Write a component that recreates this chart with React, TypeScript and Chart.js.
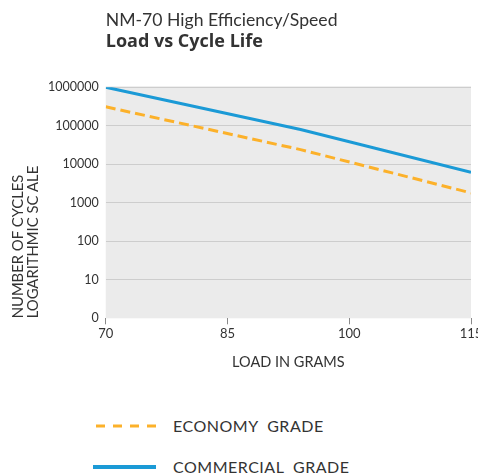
import React, { useEffect, useRef } from 'react';
import { Chart, registerables } from 'chart.js';

Chart.register(...registerables);

const loads = [70, 94, 115];
const economyCycles = [310000, 24000, 1800];
const commercialCycles = [1000000, 80000, 6200];
const xTicks = [70, 85, 100, 115];
const yTicks = [1, 10, 100, 1000, 10000, 100000, 1000000];
const yTickLabels = ['0', '10', '100', '1000', '10000', '100000', '1000000'];
const titleText = 'NM-70 High Efficiency/Speed';
const subtitleText = 'Load vs Cycle Life';
const xTitle = 'LOAD IN GRAMS';
const yTitle = ['NUMBER OF CYCLES', 'LOGARITHMIC SC ALE'];
const seriesNames = ['ECONOMY  GRADE', 'COMMERCIAL  GRADE'];

const ECON = '#fcb12a';
const COMM = '#1b9ad6';
const TEXT = '#333333';
const FONT = 'Lato';

const plotBg = {
  id: 'plotBg',
  beforeDraw(chart: any) {
    const { ctx, chartArea } = chart;
    if (!chartArea) return;
    ctx.save();
    ctx.fillStyle = '#ebebeb';
    ctx.fillRect(chartArea.left, chartArea.top - 1, chartArea.right - chartArea.left, chartArea.bottom - chartArea.top + 1);
    ctx.restore();
  },
};

function ChartView() {
  const ref = useRef<HTMLCanvasElement | null>(null);
  useEffect(() => {
    if (!ref.current) return;
    const chart = new Chart(ref.current, {
      type: 'line',
      data: {
        datasets: [
          {
            label: seriesNames[0],
            data: loads.map((x, i) => ({ x, y: economyCycles[i] })),
            borderColor: ECON,
            backgroundColor: ECON,
            borderWidth: 3,
            borderDash: [10, 5],
            pointRadius: 0,
            tension: 0,
          },
          {
            label: seriesNames[1],
            data: loads.map((x, i) => ({ x, y: commercialCycles[i] })),
            borderColor: COMM,
            backgroundColor: COMM,
            borderWidth: 3,
            pointRadius: 0,
            tension: 0,
          },
        ],
      },
      options: {
        responsive: false,
        animation: false,
        layout: { padding: { left: 10, right: 19, top: 0, bottom: 0 } },
        plugins: {
          legend: { display: false },
          tooltip: { enabled: false },
          title: {
            display: true,
            text: titleText,
            align: 'start',
            fullSize: false,
            color: TEXT,
            font: { family: FONT, size: 17.6, weight: 'normal', lineHeight: 1.2 },
            padding: { top: 9.7, bottom: 0 },
          },
          subtitle: {
            display: true,
            text: subtitleText,
            align: 'start',
            fullSize: false,
            color: TEXT,
            font: { family: 'Open Sans', size: 18, weight: 'bold', lineHeight: 1.2 },
            padding: { top: 0, bottom: 34.8 },
          },
        },
        scales: {
          x: {
            type: 'linear',
            min: 70,
            max: 115,
            afterBuildTicks: (scale: any) => {
              scale.ticks = xTicks.map((v) => ({ value: v }));
            },
            ticks: {
              color: TEXT,
              padding: 2,
              font: { family: FONT, size: 13 },
              maxRotation: 0,
            },
            grid: {
              display: true,
              drawOnChartArea: false,
              drawTicks: true,
              tickLength: 6,
              color: '#8a8a8a',
            },
            border: { display: false },
            title: {
              display: true,
              text: xTitle,
              color: TEXT,
              font: { family: FONT, size: 14.5, lineHeight: 1.2 },
              padding: { top: 9.7, bottom: 0 },
            },
          },
          y: {
            type: 'logarithmic',
            min: 1,
            max: 1000000,
            afterBuildTicks: (scale: any) => {
              scale.ticks = yTicks.map((v) => ({ value: v }));
            },
            ticks: {
              color: TEXT,
              padding: 7,
              font: { family: FONT, size: 12.5 },
              callback: (value: any) => {
                const i = yTicks.indexOf(Number(value));
                return i >= 0 ? yTickLabels[i] : '';
              },
            },
            grid: {
              drawTicks: false,
              color: (ctx: any) => (ctx.tick && ctx.tick.value === 1 ? 'rgba(0,0,0,0)' : '#cdcdcd'),
              lineWidth: 1,
            },
            border: { display: false },
            title: {
              display: true,
              text: yTitle,
              align: 'start',
              color: TEXT,
              font: { family: FONT, size: 14.8, lineHeight: 1.0135 },
              padding: { top: 0.5, bottom: 0.5 },
            },
          },
        },
      },
      plugins: [plotBg],
    } as any);
    return () => chart.destroy();
  }, []);
  return <canvas ref={ref} width={490} height={371} style={{ display: 'block' }} />;
}

function LegendRow({ top, name, dashed, color, x1, width }: any) {
  return (
    <div style={{ position: 'absolute', left: 0, top: top - 12, height: 24, width: 478 }}>
      <svg width={478} height={24} style={{ position: 'absolute', left: 0, top: 0 }}>
        <line
          x1={x1}
          x2={156}
          y1={12}
          y2={12}
          stroke={color}
          strokeWidth={width}
          strokeDasharray={dashed ? '9 8' : undefined}
        />
      </svg>
      <div
        style={{
          position: 'absolute',
          left: 173,
          top: 0,
          height: 24,
          lineHeight: '24px',
          fontFamily: FONT,
          fontSize: 16,
          color: TEXT,
          whiteSpace: 'pre',
          letterSpacing: '0.5px',
        }}
      >
        {name}
      </div>
    </div>
  );
}

export default function App() {
  return (
    <div
      style={{
        position: 'fixed',
        left: 0,
        top: 0,
        width: 478,
        height: 476,
        overflow: 'hidden',
        background: '#ffffff',
      }}
    >
      <ChartView />
      <LegendRow top={426} name={seriesNames[0]} dashed color={ECON} x1={96} width={3} />
      <LegendRow top={467} name={seriesNames[1]} dashed={false} color={COMM} x1={93} width={4} />
    </div>
  );
}
